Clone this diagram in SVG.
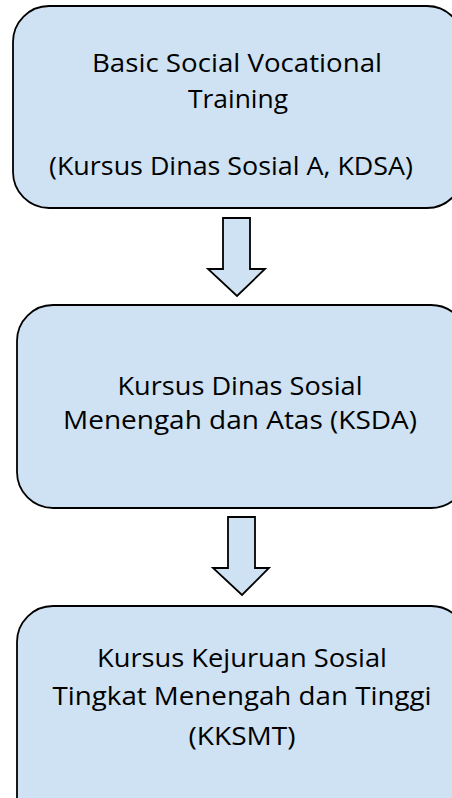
<svg xmlns="http://www.w3.org/2000/svg" width="452" height="798" viewBox="0 0 452 798">
<style>
.box{fill:#cfe2f3;stroke:#000;stroke-width:1.8}
.arr{fill:#cfe2f3;stroke:#000;stroke-width:1.8;stroke-linejoin:miter}
text{font-family:"Open Sans","Noto Sans",sans-serif;font-size:25px;fill:#000;text-anchor:middle}
</style>
<rect width="452" height="798" fill="#fff"/>
<g id="node1">
<rect class="box" x="13" y="6" width="450" height="202" rx="36" ry="36"/>
<text x="237" y="72" textLength="290" lengthAdjust="spacingAndGlyphs">Basic Social Vocational</text>
<text x="238" y="108" textLength="100" lengthAdjust="spacingAndGlyphs">Training</text>
<text x="231" y="175" textLength="364" lengthAdjust="spacingAndGlyphs">(Kursus Dinas Sosial A, KDSA)</text>
</g>
<g id="node2">
<rect class="box" x="17" y="305" width="450" height="203" rx="36" ry="36"/>
<text x="240" y="395" textLength="245" lengthAdjust="spacingAndGlyphs">Kursus Dinas Sosial</text>
<text x="240" y="429" textLength="354" lengthAdjust="spacingAndGlyphs">Menengah dan Atas (KSDA)</text>
</g>
<g id="node3">
<rect class="box" x="17" y="606" width="450" height="230" rx="36" ry="36"/>
<text x="242" y="667" textLength="290" lengthAdjust="spacingAndGlyphs">Kursus Kejuruan Sosial</text>
<text x="242" y="705" textLength="379" lengthAdjust="spacingAndGlyphs">Tingkat Menengah dan Tinggi</text>
<text x="242" y="745" textLength="107" lengthAdjust="spacingAndGlyphs">(KKSMT)</text>
</g>
<g id="connectors">
<polygon class="arr" points="223,218 250,218 250,269 265,269 237,296 208,269 223,269"/>
<polygon class="arr" points="228,517 255,517 255,568 269,568 242,595 213,568 228,568"/>
</g>
</svg>
